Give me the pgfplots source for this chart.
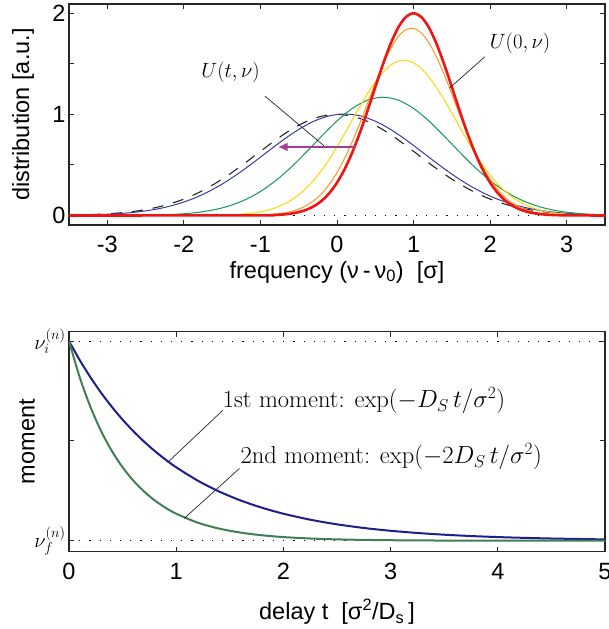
\documentclass[border=0pt]{standalone}
\usepackage{fontspec}
\setsansfont{Liberation Sans}
\usepackage{pgfplots}
\pgfplotsset{compat=1.18}
\usetikzlibrary{arrows.meta}
\definecolor{cred}{RGB}{240,20,20}
\definecolor{corange}{RGB}{255,150,30}
\definecolor{cyellow}{RGB}{250,215,0}
\definecolor{cgreen}{RGB}{20,150,85}
\definecolor{cblue}{RGB}{60,60,160}
\definecolor{carrow}{RGB}{165,60,145}
\definecolor{bblue}{RGB}{30,30,140}
\definecolor{bgreen}{RGB}{65,125,85}
\newcommand\lbl{\fontsize{22bp}{26bp}\selectfont}
\newcommand\slbl{\fontsize{23.5bp}{27bp}\selectfont}
\newcommand\blbl{\fontsize{24.5bp}{28bp}\selectfont}
\begin{document}
\begin{tikzpicture}
\pgfplotsset{
  every axis/.append style={
    scale only axis, width=536bp,
    axis line style={line width=1.1bp, black!85},
    tick style={line width=0.9bp, black!85},
    tick align=inside, major tick length=5bp,
    tick label style={font=\sffamily\slbl},
    label style={font=\sffamily\slbl},
  }}
% ---------------- top panel ----------------
\begin{axis}[at={(0bp,0bp)}, anchor=south west, height=221bp,
  xmin=-3.5, xmax=3.5, ymin=-0.094, ymax=2.092,
  xtick={-3,-2,-1,0,1,2,3}, xticklabels={-3,-2,-1,0,1,2,3},
  ytick={0,0.5,1,1.5,2}, yticklabels={0,,1,,2},
  xlabel={frequency (ν\,-\,ν\textsubscript{0})\ \ [σ]},
  ylabel={distribution [a.u.]},
  xlabel style={at={(axis description cs:0.5,0)}, anchor=center, yshift=-47bp},
  ylabel style={at={(axis description cs:-0.0858,0.5)}, anchor=center},
  xticklabel style={yshift=-8bp},
]
\addplot[black, line width=0.6bp, dash pattern=on 1.2bp off 9bp] coordinates {(-3.5,0) (3.5,0)};
\addplot[black!85, line width=1.1bp, dash pattern=on 11bp off 10bp, smooth] coordinates {
(-3.5,0.0038) (-3.4,0.0052) (-3.2,0.0095) (-3.0,0.0167) (-2.8,0.0283) (-2.6,0.0463) (-2.4,0.0729) (-2.2,0.1108) (-2.0,0.1623) (-1.8,0.2293) (-1.6,0.3123) (-1.4,0.4103) (-1.2,0.5197) (-1.0,0.6347) (-0.8,0.7476) (-0.6,0.8491) (-0.4,0.9299) (-0.2,0.9820) (0,1)
(0.2,0.9820) (0.4,0.9299) (0.6,0.8491) (0.8,0.7476) (1.0,0.6347) (1.2,0.5197) (1.4,0.4103) (1.6,0.3123) (1.8,0.2293) (2.0,0.1623) (2.2,0.1108) (2.4,0.0729) (2.6,0.0463) (2.8,0.0283) (3.0,0.0167) (3.2,0.0095) (3.4,0.0052) (3.5,0.0038)};
\addplot[cblue, line width=1bp, smooth] coordinates {
(-3.5,0.0027) (-3.3,0.0050) (-3.1,0.0092) (-2.9,0.0163) (-2.7,0.0277) (-2.5,0.0454) (-2.3,0.0718) (-2.1,0.1094) (-1.9,0.1607) (-1.7,0.2276) (-1.5,0.3108) (-1.3,0.4092) (-1.1,0.5192) (-0.9,0.6351) (-0.7,0.7489) (-0.5,0.8514) (-0.3,0.9331) (-0.1,0.9858) (0.1,1.0040)
(0.3,0.9858) (0.5,0.9331) (0.7,0.8514) (0.9,0.7489) (1.1,0.6351) (1.3,0.5192) (1.5,0.4092) (1.7,0.3108) (1.9,0.2276) (2.1,0.1607) (2.3,0.1094) (2.5,0.0718) (2.7,0.0454) (2.9,0.0277) (3.1,0.0163) (3.3,0.0092) (3.5,0.0050)};
\addplot[cgreen, line width=1bp, smooth] coordinates {
(-3.5,0) (-3.4,0.0000) (-3.2,0.0001) (-3.0,0.0004) (-2.8,0.0009) (-2.6,0.0020) (-2.4,0.0043) (-2.2,0.0089) (-2.0,0.0174) (-1.8,0.0324) (-1.6,0.0574) (-1.4,0.0969) (-1.2,0.1556) (-1.0,0.2376) (-0.8,0.3453) (-0.6,0.4773) (-0.4,0.6277) (-0.2,0.7854) (0.0,0.9351) (0.2,1.0590) (0.4,1.1412) (0.6,1.17)
(0.8,1.1412) (1.0,1.0590) (1.2,0.9351) (1.4,0.7854) (1.6,0.6277) (1.8,0.4773) (2.0,0.3453) (2.2,0.2376) (2.4,0.1556) (2.6,0.0969) (2.8,0.0574) (3.0,0.0324) (3.2,0.0174) (3.4,0.0089) (3.5,0.0062)};
\addplot[cyellow, line width=1bp, smooth] coordinates {
(-3.5,0) (-2.0,0.0002) (-1.8,0.0008) (-1.7,0.0013) (-1.6,0.0023) (-1.5,0.0038) (-1.4,0.0062) (-1.3,0.0100) (-1.2,0.0157) (-1.1,0.0242) (-1.0,0.0364) (-0.9,0.0537) (-0.8,0.0775) (-0.7,0.1095) (-0.6,0.1515) (-0.5,0.2052) (-0.4,0.2721) (-0.3,0.3531) (-0.2,0.4487) (-0.1,0.5581) (0.0,0.6796) (0.1,0.8100) (0.2,0.9451) (0.3,1.0797) (0.4,1.2073) (0.5,1.3216) (0.6,1.4163) (0.7,1.4858) (0.8,1.5258) (0.9,1.5340)
(1.0,1.5097) (1.1,1.4545) (1.2,1.3718) (1.3,1.2665) (1.4,1.1447) (1.5,1.0129) (1.6,0.8773) (1.7,0.7439) (1.8,0.6175) (1.9,0.5018) (2.0,0.3991) (2.1,0.3108) (2.2,0.2370) (2.3,0.1768) (2.4,0.1292) (2.5,0.0924) (2.6,0.0647) (2.7,0.0443) (2.8,0.0297) (2.9,0.0195) (3.0,0.0126) (3.1,0.0079) (3.2,0.0049) (3.3,0.0029) (3.4,0.0017) (3.5,0.0010)};
\addplot[corange, line width=1bp, smooth] coordinates {
(-3.5,0) (-1.0,0.0043) (-0.9,0.0078) (-0.8,0.0138) (-0.7,0.0236) (-0.6,0.0392) (-0.5,0.0630) (-0.4,0.0982) (-0.3,0.1483) (-0.2,0.2172) (-0.1,0.3083) (0.0,0.4241) (0.1,0.5656) (0.2,0.7311) (0.3,0.9158) (0.4,1.1121) (0.5,1.3089) (0.6,1.4931) (0.7,1.6509) (0.8,1.7694) (0.9,1.8381) (1.0,1.8507)
(1.1,1.8062) (1.2,1.7086) (1.3,1.5666) (1.4,1.3922) (1.5,1.1993) (1.6,1.0013) (1.7,0.8103) (1.8,0.6356) (1.9,0.4833) (2.0,0.3561) (2.1,0.2543) (2.2,0.1761) (2.3,0.1182) (2.4,0.0769) (2.5,0.0485) (2.6,0.0296) (2.7,0.0175) (2.8,0.0101) (2.9,0.0056) (3.0,0.0030) (3.5,0.0002)};
\addplot[cred, line width=2.6bp, smooth] coordinates {
(-3.5,0) (-1.0,0.0014) (-0.9,0.0028) (-0.8,0.0055) (-0.7,0.0104) (-0.6,0.0190) (-0.5,0.0334) (-0.4,0.0567) (-0.3,0.0926) (-0.2,0.1459) (-0.1,0.2216) (0.0,0.3247) (0.1,0.4586) (0.2,0.6247) (0.3,0.8206) (0.4,1.0394) (0.5,1.2695) (0.6,1.4952) (0.7,1.6981) (0.8,1.8597) (0.9,1.9640) (1.0,2.0)
(1.1,1.9640) (1.2,1.8597) (1.3,1.6981) (1.4,1.4952) (1.5,1.2695) (1.6,1.0394) (1.7,0.8206) (1.8,0.6247) (1.9,0.4586) (2.0,0.3247) (2.1,0.2216) (2.2,0.1459) (2.3,0.0926) (2.4,0.0567) (2.5,0.0334) (2.6,0.0190) (2.7,0.0104) (2.8,0.0055) (2.9,0.0028) (3.0,0.0014) (3.5,0)};
\draw[carrow, line width=2.3bp, -{Latex[length=10bp,width=9bp]}] (axis cs:0.24,0.678) -- (axis cs:-0.775,0.678);
\draw[black!85, line width=0.7bp] (axis cs:-0.94,1.18) -- (axis cs:-0.17,0.69);
\draw[black!85, line width=0.7bp] (axis cs:1.93,1.57) -- (axis cs:1.47,1.26);
\node[font=\lbl] at (axis cs:-1.39,1.42) {$U(t,\nu)$};
\node[font=\lbl] at (axis cs:2.39,1.70) {$U(0,\nu)$};
\end{axis}
% ---------------- bottom panel ----------------
\begin{axis}[at={(0bp,-326.7bp)}, anchor=south west, height=220bp,
  xmin=0, xmax=5, ymin=-0.055, ymax=1.047,
  xtick={0,1,2,3,4,5}, xticklabels={0,1,2,3,4,5},
  ytick={0,0.5,1}, yticklabels={$\nu_f^{(n)}$,,$\nu_i^{(n)}$},
  yticklabel style={font=\lbl},
  xlabel={delay t\ \ [σ\textsuperscript{2}/D\textsubscript{s}\,]},
  ylabel={moment},
  xlabel style={at={(axis description cs:0.5,0)}, anchor=center, yshift=-60bp},
  ylabel style={at={(axis description cs:-0.078,0.5)}, anchor=center},
  xticklabel style={yshift=-8bp},
]
\addplot[black, line width=0.6bp, dash pattern=on 1.2bp off 9bp] coordinates {(0,0) (5,0)};
\addplot[black, line width=0.6bp, dash pattern=on 1.2bp off 9bp] coordinates {(0,1) (5,1)};
\addplot[bblue, line width=2bp, smooth] coordinates {
(0,1) (0.1,0.9048) (0.2,0.8187) (0.3,0.7408) (0.4,0.6703) (0.5,0.6065) (0.6,0.5488) (0.7,0.4966) (0.8,0.4493) (0.9,0.4066) (1.0,0.3679) (1.2,0.3012) (1.4,0.2466) (1.6,0.2019) (1.8,0.1653) (2.0,0.1353) (2.25,0.1054) (2.5,0.0821) (2.75,0.0639) (3.0,0.0498) (3.25,0.0388) (3.5,0.0302) (3.75,0.0235) (4.0,0.0183) (4.25,0.0143) (4.5,0.0111) (4.75,0.0087) (5.0,0.0067)};
\addplot[bgreen, line width=2bp, smooth] coordinates {
(0,1) (0.1,0.8187) (0.2,0.6703) (0.3,0.5488) (0.4,0.4493) (0.5,0.3679) (0.6,0.3012) (0.7,0.2466) (0.8,0.2019) (0.9,0.1653) (1.0,0.1353) (1.2,0.0907) (1.4,0.0608) (1.6,0.0408) (1.8,0.0273) (2.0,0.0183) (2.25,0.0111) (2.5,0.0067) (2.75,0.0041) (3.0,0.0025) (3.5,0.0009) (4.0,0.0003) (4.5,0.0001) (5.0,0.0000)};
\draw[black!85, line width=0.7bp] (axis cs:1.434,0.653) -- (axis cs:0.92,0.392);
\draw[black!85, line width=0.7bp] (axis cs:1.59,0.362) -- (axis cs:1.075,0.112);
\node[font=\blbl, anchor=west, inner sep=0pt] at (axis cs:1.434,0.70) {1st moment: $\exp(-D_S\,t/\sigma^2)$};
\node[font=\blbl, anchor=west, inner sep=0pt] at (axis cs:1.60,0.42) {2nd moment: $\exp(-2D_S\,t/\sigma^2)$};
\end{axis}
\pgfresetboundingbox
\useasboundingbox (-69bp,-404bp) rectangle (540bp,225bp);
\end{tikzpicture}
\end{document}
